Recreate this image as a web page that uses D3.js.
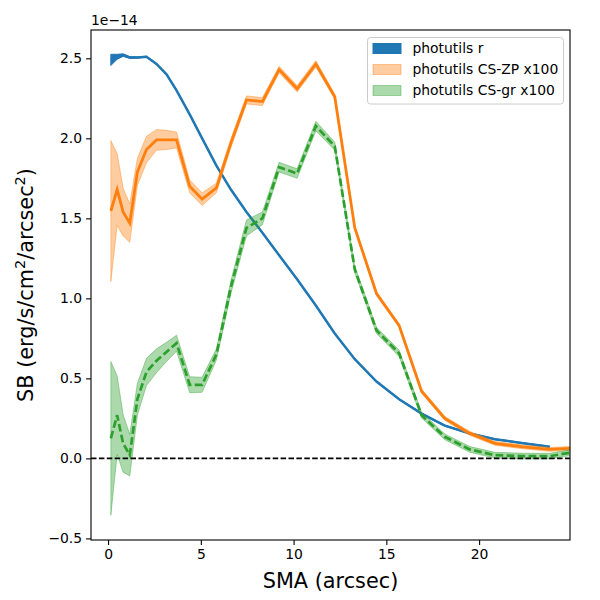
<!DOCTYPE html>
<html>
<head>
<meta charset="utf-8">
<script src="https://cdn.jsdelivr.net/npm/d3@7"></script>
<style>
  body { margin: 0; background: #fff; }
  text { font-family: "DejaVu Sans", sans-serif; }
</style>
</head>
<body>
<div id="chart-area"></div>
<script>
// semi-major axis (arcsec), shared by all profiles
var sma = [0.15, 0.49, 0.81, 1.17, 1.58, 2.07, 2.61, 3.15, 3.69, 4.40, 5.07, 5.84, 6.62, 7.46,
           8.32, 9.22, 10.19, 11.20, 12.22, 13.30, 14.47, 15.69, 16.90, 18.15, 19.50, 20.85,
           22.37, 23.80, 25.40];

// surface brightness, units of 1e-14
var sbR = [2.49, 2.51, 2.52, 2.505, 2.505, 2.51, 2.465, 2.40, 2.30, 2.15, 2.00, 1.83, 1.68, 1.54,
           1.41, 1.27, 1.12, 0.955, 0.78, 0.62, 0.48, 0.37, 0.28, 0.205, 0.156, 0.12, 0.095, 0.073];
var errR = [0.035, 0.015, 0.008, 0.005, 0.004, 0.003, 0.003, 0.003, 0.003, 0.003, 0.003, 0.003,
            0.003, 0.003, 0.003, 0.003, 0.003, 0.003, 0.003, 0.003, 0.003, 0.003, 0.003, 0.003,
            0.003, 0.003, 0.003, 0.003];

var sbZP = [1.546, 1.68, 1.54, 1.47, 1.79, 1.93, 1.99, 1.99, 1.99, 1.70, 1.62, 1.69, 1.97, 2.24,
            2.23, 2.43, 2.31, 2.465, 2.26, 1.44, 1.03, 0.83, 0.42, 0.25, 0.156, 0.094, 0.072,
            0.056, 0.065];
var errZP = [0.44, 0.225, 0.15, 0.12, 0.085, 0.083, 0.065, 0.06, 0.05, 0.04, 0.04, 0.03, 0.028,
             0.025, 0.025, 0.02, 0.02, 0.02, 0.015, 0.012, 0.012, 0.012, 0.012, 0.012, 0.012,
             0.012, 0.012, 0.012, 0.012];

var sbGR = [0.125, 0.27, 0.094, 0.02, 0.37, 0.54, 0.61, 0.665, 0.72, 0.46, 0.46, 0.65, 1.07, 1.44,
            1.50, 1.82, 1.78, 2.077, 1.95, 1.18, 0.80, 0.656, 0.27, 0.135, 0.056, 0.02, 0.014,
            0.014, 0.045];
var errGR = [0.48, 0.245, 0.18, 0.13, 0.1, 0.085, 0.075, 0.06, 0.05, 0.05, 0.047, 0.035, 0.04,
             0.05, 0.04, 0.03, 0.03, 0.03, 0.025, 0.02, 0.02, 0.02, 0.018, 0.018, 0.018, 0.018,
             0.018, 0.018, 0.018];

var xTicks = [0, 5, 10, 15, 20];
var yTicks = [-0.5, 0.0, 0.5, 1.0, 1.5, 2.0, 2.5];
var legendLabels = ["photutils r", "photutils CS-ZP x100", "photutils CS-gr x100"];

var margin = {top: 30, right: 30, bottom: 60, left: 91};
var width = 479;
var height = 510;

var svg = d3.select('#chart-area')
    .append('svg')
        .attr('width', 600)
        .attr('height', 600);

var g = svg.append("g")
    .attr("transform", "translate(" + margin.left + ", " + margin.top + ")");

var x = d3.scaleLinear()
    .domain([-0.92, 24.9])
    .range([0, width]);

var y = d3.scaleLinear()
    .domain([-0.51, 2.677])
    .range([height, 0]);

g.append("clipPath")
    .attr("id", "plot-clip")
  .append("rect")
    .attr("width", width)
    .attr("height", height);

var plot = g.append("g").attr("clip-path", "url(#plot-clip)");

function toRows(vals, errs) {
    return vals.map((v, i) => { return {x: sma[i], y: v, e: errs[i]}; });
}

var band = d3.area()
    .x((d) => x(d.x))
    .y0((d) => y(d.y - d.e))
    .y1((d) => y(d.y + d.e));

var line = d3.line()
    .x((d) => x(d.x))
    .y((d) => y(d.y));

var series = [
    {rows: toRows(sbR, errR), color: "#1f77b4", fill: "#1f77b4", fillOp: 1, width: 2.5, dash: null},
    {rows: toRows(sbZP, errZP), color: "#ff7f0e", fill: "#ff7f0e", fillOp: 0.4, width: 2.8, dash: null},
    {rows: toRows(sbGR, errGR), color: "#2ca02c", fill: "#2ca02c", fillOp: 0.4, width: 2.7, dash: "7.7,3.3"}
];

series.forEach((s) => {
    plot.append("path")
        .attr("d", band(s.rows))
        .attr("fill", s.fill)
        .attr("fill-opacity", s.fillOp)
        .attr("stroke", s.fill)
        .attr("stroke-opacity", s.fillOp)
        .attr("stroke-width", 1);
    plot.append("path")
        .attr("d", line(s.rows))
        .attr("fill", "none")
        .attr("stroke", s.color)
        .attr("stroke-width", s.width)
        .attr("stroke-dasharray", s.dash);
});

// zero level
plot.append("line")
    .attr("x1", 0)
    .attr("x2", width)
    .attr("y1", y(0))
    .attr("y2", y(0))
    .attr("stroke", "black")
    .attr("stroke-width", 1.6)
    .attr("stroke-dasharray", "5.5,2.4");

var bottomAxis = d3.axisBottom(x)
    .tickValues(xTicks)
    .tickSize(4.9)
    .tickPadding(4)
    .tickFormat(d3.format("d"));
var xg = g.append("g")
    .attr("class", "bottom axis")
    .attr("transform", "translate(0, " + height + ")")
    .call(bottomAxis);

var leftAxis = d3.axisLeft(y)
    .tickValues(yTicks)
    .tickSize(4.9)
    .tickPadding(4)
    .tickFormat((d) => d3.format(".1f")(d).replace("-", "\u2212"));
var yg = g.append("g")
    .attr("class", "left axis")
    .call(leftAxis);

[xg, yg].forEach((a) => {
    a.select(".domain").remove();
    a.selectAll("line").attr("stroke", "black").attr("stroke-width", 1.1);
    a.selectAll("text").attr("font-size", "13.9px").attr("fill", "black")
        .style("font-family", "'DejaVu Sans', sans-serif");
});

// frame
g.append("rect")
    .attr("width", width)
    .attr("height", height)
    .attr("fill", "none")
    .attr("stroke", "black")
    .attr("stroke-width", 1.1);

// offset text
g.append("text")
    .attr("x", 0)
    .attr("y", -5)
    .attr("font-size", "13.9px")
    .text("1e\u221214");

g.append("text")
    .attr("class", "x axis-label")
    .attr("x", width / 2)
    .attr("y", height + 48)
    .attr("font-size", "20.8px")
    .attr("text-anchor", "middle")
    .text("SMA (arcsec)");

var ylab = g.append("text")
    .attr("class", "y axis-label")
    .attr("x", -(height / 2))
    .attr("y", -58)
    .attr("font-size", "20.8px")
    .attr("text-anchor", "middle")
    .attr("transform", "rotate(-90)");
ylab.append("tspan").text("SB (erg/s/cm");
ylab.append("tspan").attr("baseline-shift", "super").attr("font-size", "14.5px").text("2");
ylab.append("tspan").text("/arcsec");
ylab.append("tspan").attr("baseline-shift", "super").attr("font-size", "14.5px").text("2");
ylab.append("tspan").text(")");

// legend
var legend = g.append("g")
    .attr("transform", "translate(" + (367.5 - margin.left) + ", " + (37.5 - margin.top) + ")");

legend.append("rect")
    .attr("width", 196)
    .attr("height", 66.5)
    .attr("rx", 3)
    .attr("fill", "white")
    .attr("fill-opacity", 0.8)
    .attr("stroke", "#cccccc")
    .attr("stroke-width", 1);

legendLabels.forEach((label, i) => {
    var s = series[i];
    var row = legend.append("g")
        .attr("transform", "translate(0, " + (i * 21) + ")");
    row.append("rect")
        .attr("x", 5.5)
        .attr("y", 6)
        .attr("width", 28)
        .attr("height", 10)
        .attr("fill", s.fill)
        .attr("fill-opacity", s.fillOp)
        .attr("stroke", s.fill)
        .attr("stroke-opacity", s.fillOp)
        .attr("stroke-width", 1);
    row.append("text")
        .attr("x", 45)
        .attr("y", 11)
        .attr("dy", "0.35em")
        .attr("font-size", "13.9px")
        .text(label);
});
</script>
</body>
</html>
